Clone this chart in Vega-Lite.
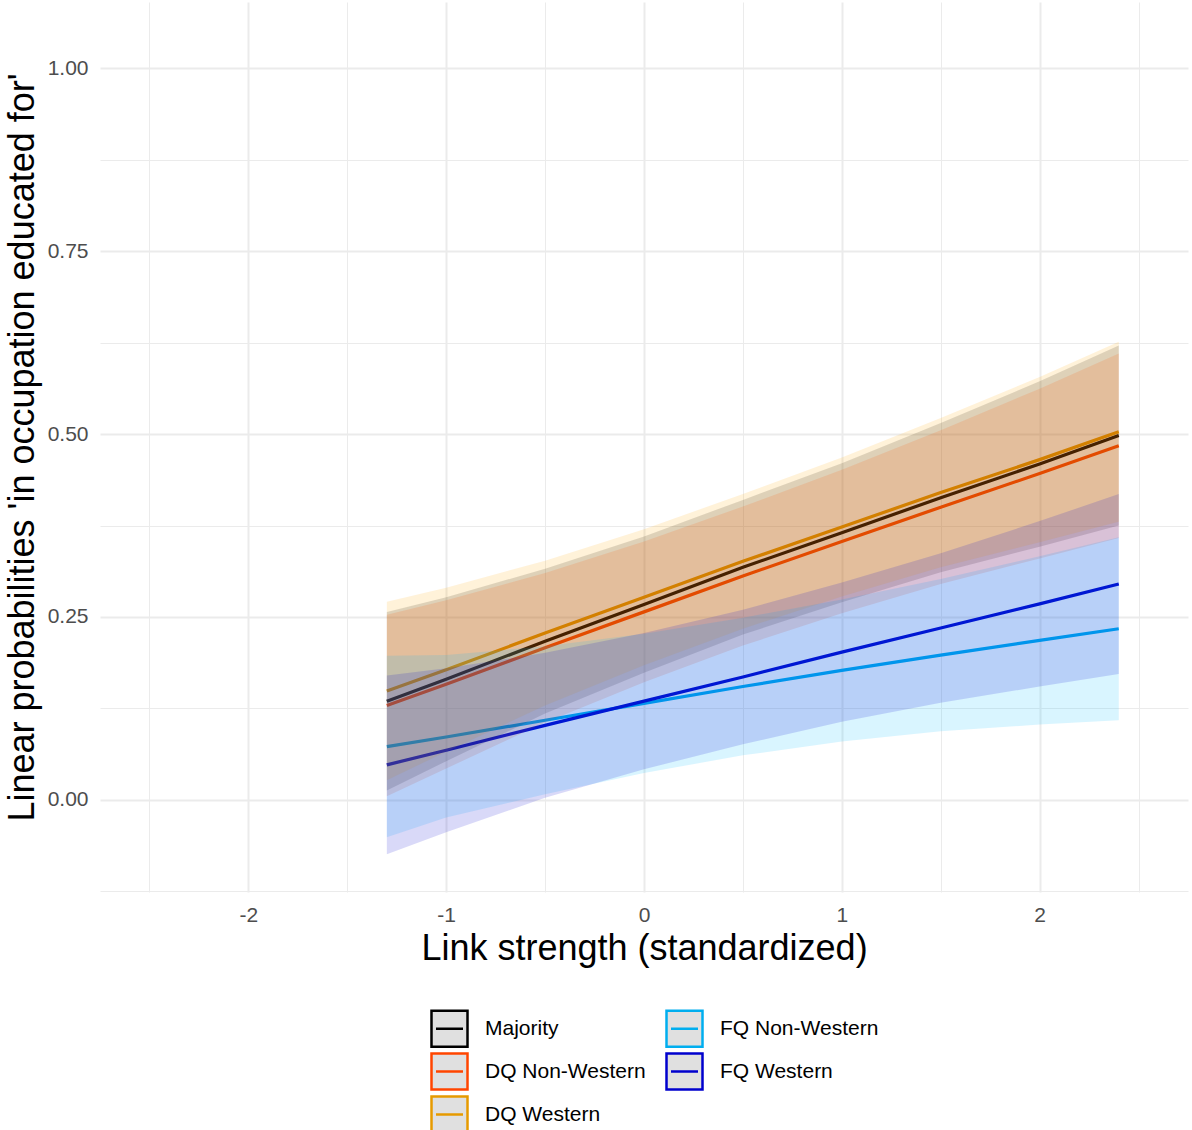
{
  "$schema": "https://vega.github.io/schema/vega-lite/v6.json",
  "width": 1088,
  "height": 890,
  "autosize": {"type": "none"},
  "padding": {"top": 2, "left": 100, "right": 4, "bottom": 238},
  "background": "white",
  "config": {"view": {"stroke": null}, "font": "Liberation Sans"},
  "data": {"values": [
    {"group": "Majority", "x": -1.3, "est": 0.135, "lo": 0.013, "hi": 0.257},
    {"group": "Majority", "x": -1.0, "est": 0.165, "lo": 0.053, "hi": 0.277},
    {"group": "Majority", "x": -0.5, "est": 0.217, "lo": 0.118, "hi": 0.316},
    {"group": "Majority", "x": 0.0, "est": 0.267, "lo": 0.174, "hi": 0.360},
    {"group": "Majority", "x": 0.5, "est": 0.318, "lo": 0.226, "hi": 0.410},
    {"group": "Majority", "x": 1.0, "est": 0.365, "lo": 0.270, "hi": 0.460},
    {"group": "Majority", "x": 1.5, "est": 0.413, "lo": 0.311, "hi": 0.515},
    {"group": "Majority", "x": 2.0, "est": 0.459, "lo": 0.346, "hi": 0.572},
    {"group": "Majority", "x": 2.4, "est": 0.498, "lo": 0.375, "hi": 0.621},
    {"group": "DQ Non-Western", "x": -1.3, "est": 0.129, "lo": 0.005, "hi": 0.253},
    {"group": "DQ Non-Western", "x": -1.0, "est": 0.158, "lo": 0.043, "hi": 0.273},
    {"group": "DQ Non-Western", "x": -0.5, "est": 0.208, "lo": 0.106, "hi": 0.310},
    {"group": "DQ Non-Western", "x": 0.0, "est": 0.257, "lo": 0.161, "hi": 0.353},
    {"group": "DQ Non-Western", "x": 0.5, "est": 0.306, "lo": 0.211, "hi": 0.401},
    {"group": "DQ Non-Western", "x": 1.0, "est": 0.353, "lo": 0.255, "hi": 0.451},
    {"group": "DQ Non-Western", "x": 1.5, "est": 0.400, "lo": 0.295, "hi": 0.505},
    {"group": "DQ Non-Western", "x": 2.0, "est": 0.446, "lo": 0.330, "hi": 0.562},
    {"group": "DQ Non-Western", "x": 2.4, "est": 0.484, "lo": 0.358, "hi": 0.610},
    {"group": "DQ Western", "x": -1.3, "est": 0.149, "lo": 0.027, "hi": 0.271},
    {"group": "DQ Western", "x": -1.0, "est": 0.178, "lo": 0.066, "hi": 0.290},
    {"group": "DQ Western", "x": -0.5, "est": 0.228, "lo": 0.129, "hi": 0.327},
    {"group": "DQ Western", "x": 0.0, "est": 0.277, "lo": 0.184, "hi": 0.370},
    {"group": "DQ Western", "x": 0.5, "est": 0.326, "lo": 0.234, "hi": 0.418},
    {"group": "DQ Western", "x": 1.0, "est": 0.373, "lo": 0.278, "hi": 0.468},
    {"group": "DQ Western", "x": 1.5, "est": 0.420, "lo": 0.318, "hi": 0.522},
    {"group": "DQ Western", "x": 2.0, "est": 0.465, "lo": 0.352, "hi": 0.578},
    {"group": "DQ Western", "x": 2.4, "est": 0.503, "lo": 0.380, "hi": 0.626},
    {"group": "FQ Non-Western", "x": -1.3, "est": 0.073, "lo": -0.051, "hi": 0.197},
    {"group": "FQ Non-Western", "x": -1.0, "est": 0.086, "lo": -0.024, "hi": 0.198},
    {"group": "FQ Non-Western", "x": -0.5, "est": 0.109, "lo": 0.008, "hi": 0.210},
    {"group": "FQ Non-Western", "x": 0.0, "est": 0.132, "lo": 0.037, "hi": 0.227},
    {"group": "FQ Non-Western", "x": 0.5, "est": 0.155, "lo": 0.061, "hi": 0.249},
    {"group": "FQ Non-Western", "x": 1.0, "est": 0.177, "lo": 0.080, "hi": 0.274},
    {"group": "FQ Non-Western", "x": 1.5, "est": 0.198, "lo": 0.094, "hi": 0.302},
    {"group": "FQ Non-Western", "x": 2.0, "est": 0.218, "lo": 0.103, "hi": 0.333},
    {"group": "FQ Non-Western", "x": 2.4, "est": 0.234, "lo": 0.109, "hi": 0.359},
    {"group": "FQ Western", "x": -1.3, "est": 0.048, "lo": -0.074, "hi": 0.170},
    {"group": "FQ Western", "x": -1.0, "est": 0.068, "lo": -0.044, "hi": 0.180},
    {"group": "FQ Western", "x": -0.5, "est": 0.102, "lo": 0.003, "hi": 0.201},
    {"group": "FQ Western", "x": 0.0, "est": 0.135, "lo": 0.042, "hi": 0.228},
    {"group": "FQ Western", "x": 0.5, "est": 0.168, "lo": 0.076, "hi": 0.260},
    {"group": "FQ Western", "x": 1.0, "est": 0.202, "lo": 0.107, "hi": 0.297},
    {"group": "FQ Western", "x": 1.5, "est": 0.235, "lo": 0.133, "hi": 0.337},
    {"group": "FQ Western", "x": 2.0, "est": 0.268, "lo": 0.155, "hi": 0.381},
    {"group": "FQ Western", "x": 2.4, "est": 0.295, "lo": 0.172, "hi": 0.418}
  ]},
  "encoding": {
    "x": {
      "field": "x",
      "type": "quantitative",
      "scale": {"domain": [-2.75, 2.75], "nice": false, "zero": false},
      "axis": {
        "values": [-2.5, -2, -1.5, -1, -0.5, 0, 0.5, 1, 1.5, 2, 2.5],
        "labelExpr": "datum.value % 1 === 0 ? '' + datum.value : ''",
        "domain": false,
        "ticks": false,
        "grid": true,
        "gridColor": "#EBEBEB",
        "gridWidth": {"condition": {"test": "datum.value % 1 !== 0", "value": 1}, "value": 2},
        "labelFontSize": 21,
        "labelColor": "#4D4D4D",
        "labelPadding": 12,
        "title": "Link strength (standardized)",
        "titleFontSize": 36,
        "titleFontWeight": "normal",
        "titleColor": "black",
        "titlePadding": 6
      }
    }
  },
  "layer": [
    {
      "mark": {"type": "line", "strokeWidth": 3.2},
      "encoding": {
        "y": {
          "field": "est",
          "type": "quantitative",
          "scale": {"domain": [-0.1257, 1.0902], "nice": false, "zero": false},
          "axis": {
            "values": [-0.125, 0, 0.125, 0.25, 0.375, 0.5, 0.625, 0.75, 0.875, 1.0],
            "labelExpr": "datum.value % 0.25 === 0 ? format(datum.value, '.2f') : ''",
            "domain": false,
            "ticks": false,
            "grid": true,
            "gridColor": "#EBEBEB",
            "gridWidth": {"condition": {"test": "datum.value % 0.25 !== 0", "value": 1}, "value": 2},
            "labelFontSize": 21,
            "labelColor": "#4D4D4D",
            "labelPadding": 12,
            "title": "Linear probabilities 'in occupation educated for'",
            "titleFontSize": 36,
            "titleFontWeight": "normal",
            "titleColor": "black",
            "titlePadding": 6
          }
        },
        "color": {
          "field": "group",
          "type": "nominal",
          "scale": {
            "domain": ["Majority", "DQ Non-Western", "DQ Western", "FQ Non-Western", "FQ Western"],
            "range": ["#000000", "#FF4500", "#E69A00", "#00AEEF", "#0000CD"]
          },
          "legend": {
            "title": null,
            "orient": "none",
            "legendX": 330,
            "legendY": 1007,
            "columns": 2,
            "columnPadding": 15,
            "rowPadding": -6,
            "padding": 0,
            "symbolType": "M-1,-1H1V1H-1Z M-0.75,0H0.75",
            "symbolSize": 1296,
            "symbolStrokeWidth": 2.5,
            "symbolFillColor": "#E0E0E0",
            "labelFontSize": 21,
            "labelColor": "black",
            "labelOffset": 16,
            "labelLimit": 400,
            "encode": {"symbols": {"update": {"fill": {"value": "#E0E0E0"}, "opacity": {"value": 1}, "fillOpacity": {"value": 1}}}}
          }
        }
      }
    },
    {
      "mark": {"type": "area", "fillOpacity": 0.15},
      "encoding": {
        "y": {
          "field": "lo",
          "type": "quantitative",
          "stack": null,
          "scale": {"domain": [-0.1257, 1.0902], "nice": false, "zero": false},
          "title": "Linear probabilities 'in occupation educated for'"
        },
        "y2": {"field": "hi"},
        "fill": {
          "field": "group",
          "type": "nominal",
          "scale": {
            "domain": ["FQ Western", "FQ Non-Western", "DQ Western", "DQ Non-Western", "Majority"],
            "range": ["#0000CD", "#00BFFF", "#FFA500", "#FF4500", "#000000"]
          },
          "legend": null
        }
      }
    }
  ]
}
